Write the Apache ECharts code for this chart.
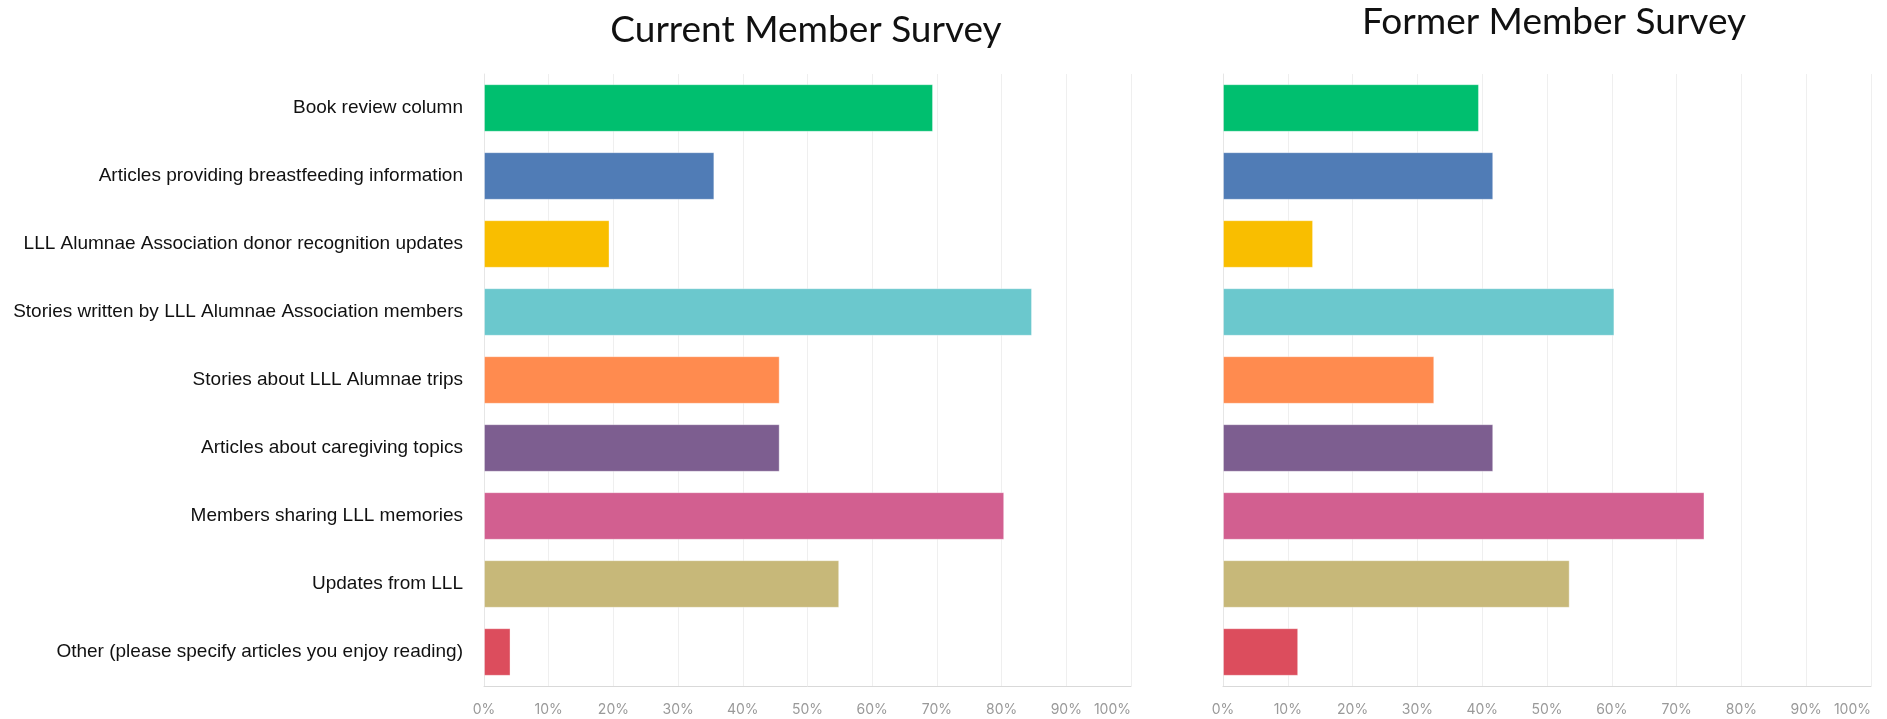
<!DOCTYPE html>
<html>
<head>
<meta charset="utf-8">
<script src="https://cdn.jsdelivr.net/npm/echarts@6/dist/echarts.min.js"></script>
<style>
  html, body { margin: 0; padding: 0; background: #fff; }
  #chart { width: 1887px; height: 719px; }
</style>
</head>
<body>
<div id="chart"></div>
<script>
// categories, top to bottom
const categories = [
  'Book review column',
  'Articles providing breastfeeding information',
  'LLL Alumnae Association donor recognition updates',
  'Stories written by LLL Alumnae Association members',
  'Stories about LLL Alumnae trips',
  'Articles about caregiving topics',
  'Members sharing LLL memories',
  'Updates from LLL',
  'Other (please specify articles you enjoy reading)'
];

// percent of respondents
const currentValues = [69.4, 35.6, 19.4, 84.7, 45.7, 45.7, 80.4, 54.9, 4.1];
const formerValues = [39.5, 41.7, 13.9, 60.4, 32.6, 41.7, 74.3, 53.5, 11.6];

const barColors = ['#00BF6F', '#507CB6', '#F9BE00', '#6BC8CD', '#FF8B4F',
                   '#7D5E90', '#D25F90', '#C7B879', '#DC4D5D'];

const titles = ['Current Member Survey', 'Former Member Survey'];

let el = document.getElementById('chart');
let inst = echarts.init(el, null, { width: 1887, height: 719 });

function xAxisFor(i) {
  return {
    type: 'value', gridIndex: i, min: 0, max: 100, interval: 10,
    axisLine: { show: true, lineStyle: { color: '#d9d9d9' } },
    axisTick: { show: false },
    splitLine: { lineStyle: { color: '#efefef' } },
    axisLabel: {
      formatter: '{value}%', color: '#999', fontFamily: 'Inter',
      fontSize: 14, margin: 17, alignMaxLabel: 'right'
    }
  };
}

function yAxisFor(i, showLabels) {
  return {
    type: 'category', gridIndex: i, data: categories, inverse: true,
    axisLine: { show: true, lineStyle: { color: '#e6e6e6' } },
    axisTick: { show: false },
    axisLabel: {
      show: showLabels, color: '#111', fontFamily: 'Liberation Sans',
      fontSize: 19, margin: 21
    }
  };
}

function seriesFor(i, values) {
  return {
    type: 'bar', xAxisIndex: i, yAxisIndex: i, barCategoryGap: '30%',
    data: values.map((v, k) => ({
      value: v,
      itemStyle: { color: barColors[k], borderColor: 'rgba(255,255,255,0.35)', borderWidth: 1 }
    })),
    silent: true
  };
}

let option = {
  animation: false,
  title: [
    { text: titles[0], left: 801, top: 7, textAlign: 'center',
      textStyle: { fontFamily: 'Lato', fontWeight: 'normal', fontSize: 37, color: '#111' } },
    { text: titles[1], left: 1549, top: -1, textAlign: 'center',
      textStyle: { fontFamily: 'Lato', fontWeight: 'normal', fontSize: 37, color: '#111' } }
  ],
  grid: [
    { left: 484, right: 756, top: 74, bottom: 33 },
    { left: 1223, right: 16, top: 74, bottom: 33 }
  ],
  xAxis: [xAxisFor(0), xAxisFor(1)],
  yAxis: [yAxisFor(0, true), yAxisFor(1, false)],
  series: [seriesFor(0, currentValues), seriesFor(1, formerValues)]
};
inst.setOption(option);
</script>
</body>
</html>
